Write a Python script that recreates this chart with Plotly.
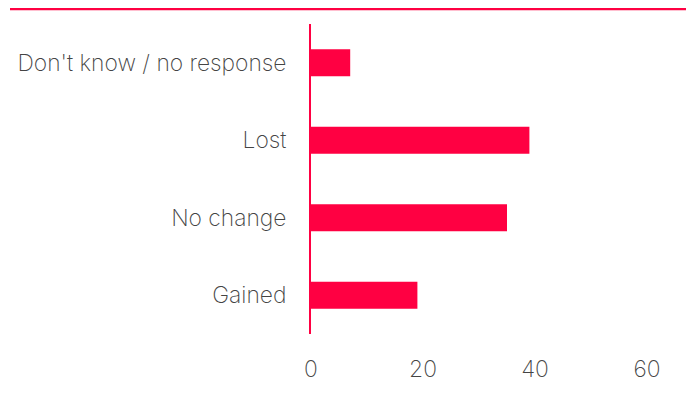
import plotly.graph_objects as go

categories = ["Gained", "No change", "Lost", "Don't know / no response"]
values = [19, 35, 39, 7]
x_ticks = [0, 20, 40, 60]

RED = "#FF0042"
GREY = "#444444"
FONT = dict(family="Inter", size=22.8, color=GREY, weight=200)

fig = go.Figure(go.Bar(
    x=values, y=categories, orientation="h",
    marker=dict(color=RED, line=dict(width=0)),
    width=0.35,
))

# the page body has an 8px margin, so the figure is sized/offset accordingly
fig.update_layout(
    width=686, height=386,
    margin=dict(l=303, r=5, t=16, b=60),
    paper_bgcolor="white", plot_bgcolor="white",
    showlegend=False,
    font=FONT,
    shapes=[dict(type="line", xref="paper", yref="paper",
                 x0=(10 - 311) / 378, x1=(688 - 311) / 378,
                 y0=1 + (24 - 9) / 310, y1=1 + (24 - 9) / 310,
                 line=dict(color=RED, width=2.5))],
)
fig.update_xaxes(range=[0, 67.5], tickvals=x_ticks, showgrid=False, zeroline=False,
                 showline=False, ticks="", ticklabelstandoff=19, tickfont=FONT)
fig.update_yaxes(range=[-0.5, 3.5], showgrid=False, zeroline=False,
                 showline=True, linecolor=RED, linewidth=2, ticks="",
                 ticklabelstandoff=18, tickfont=FONT)

fig.write_html("out.html")
